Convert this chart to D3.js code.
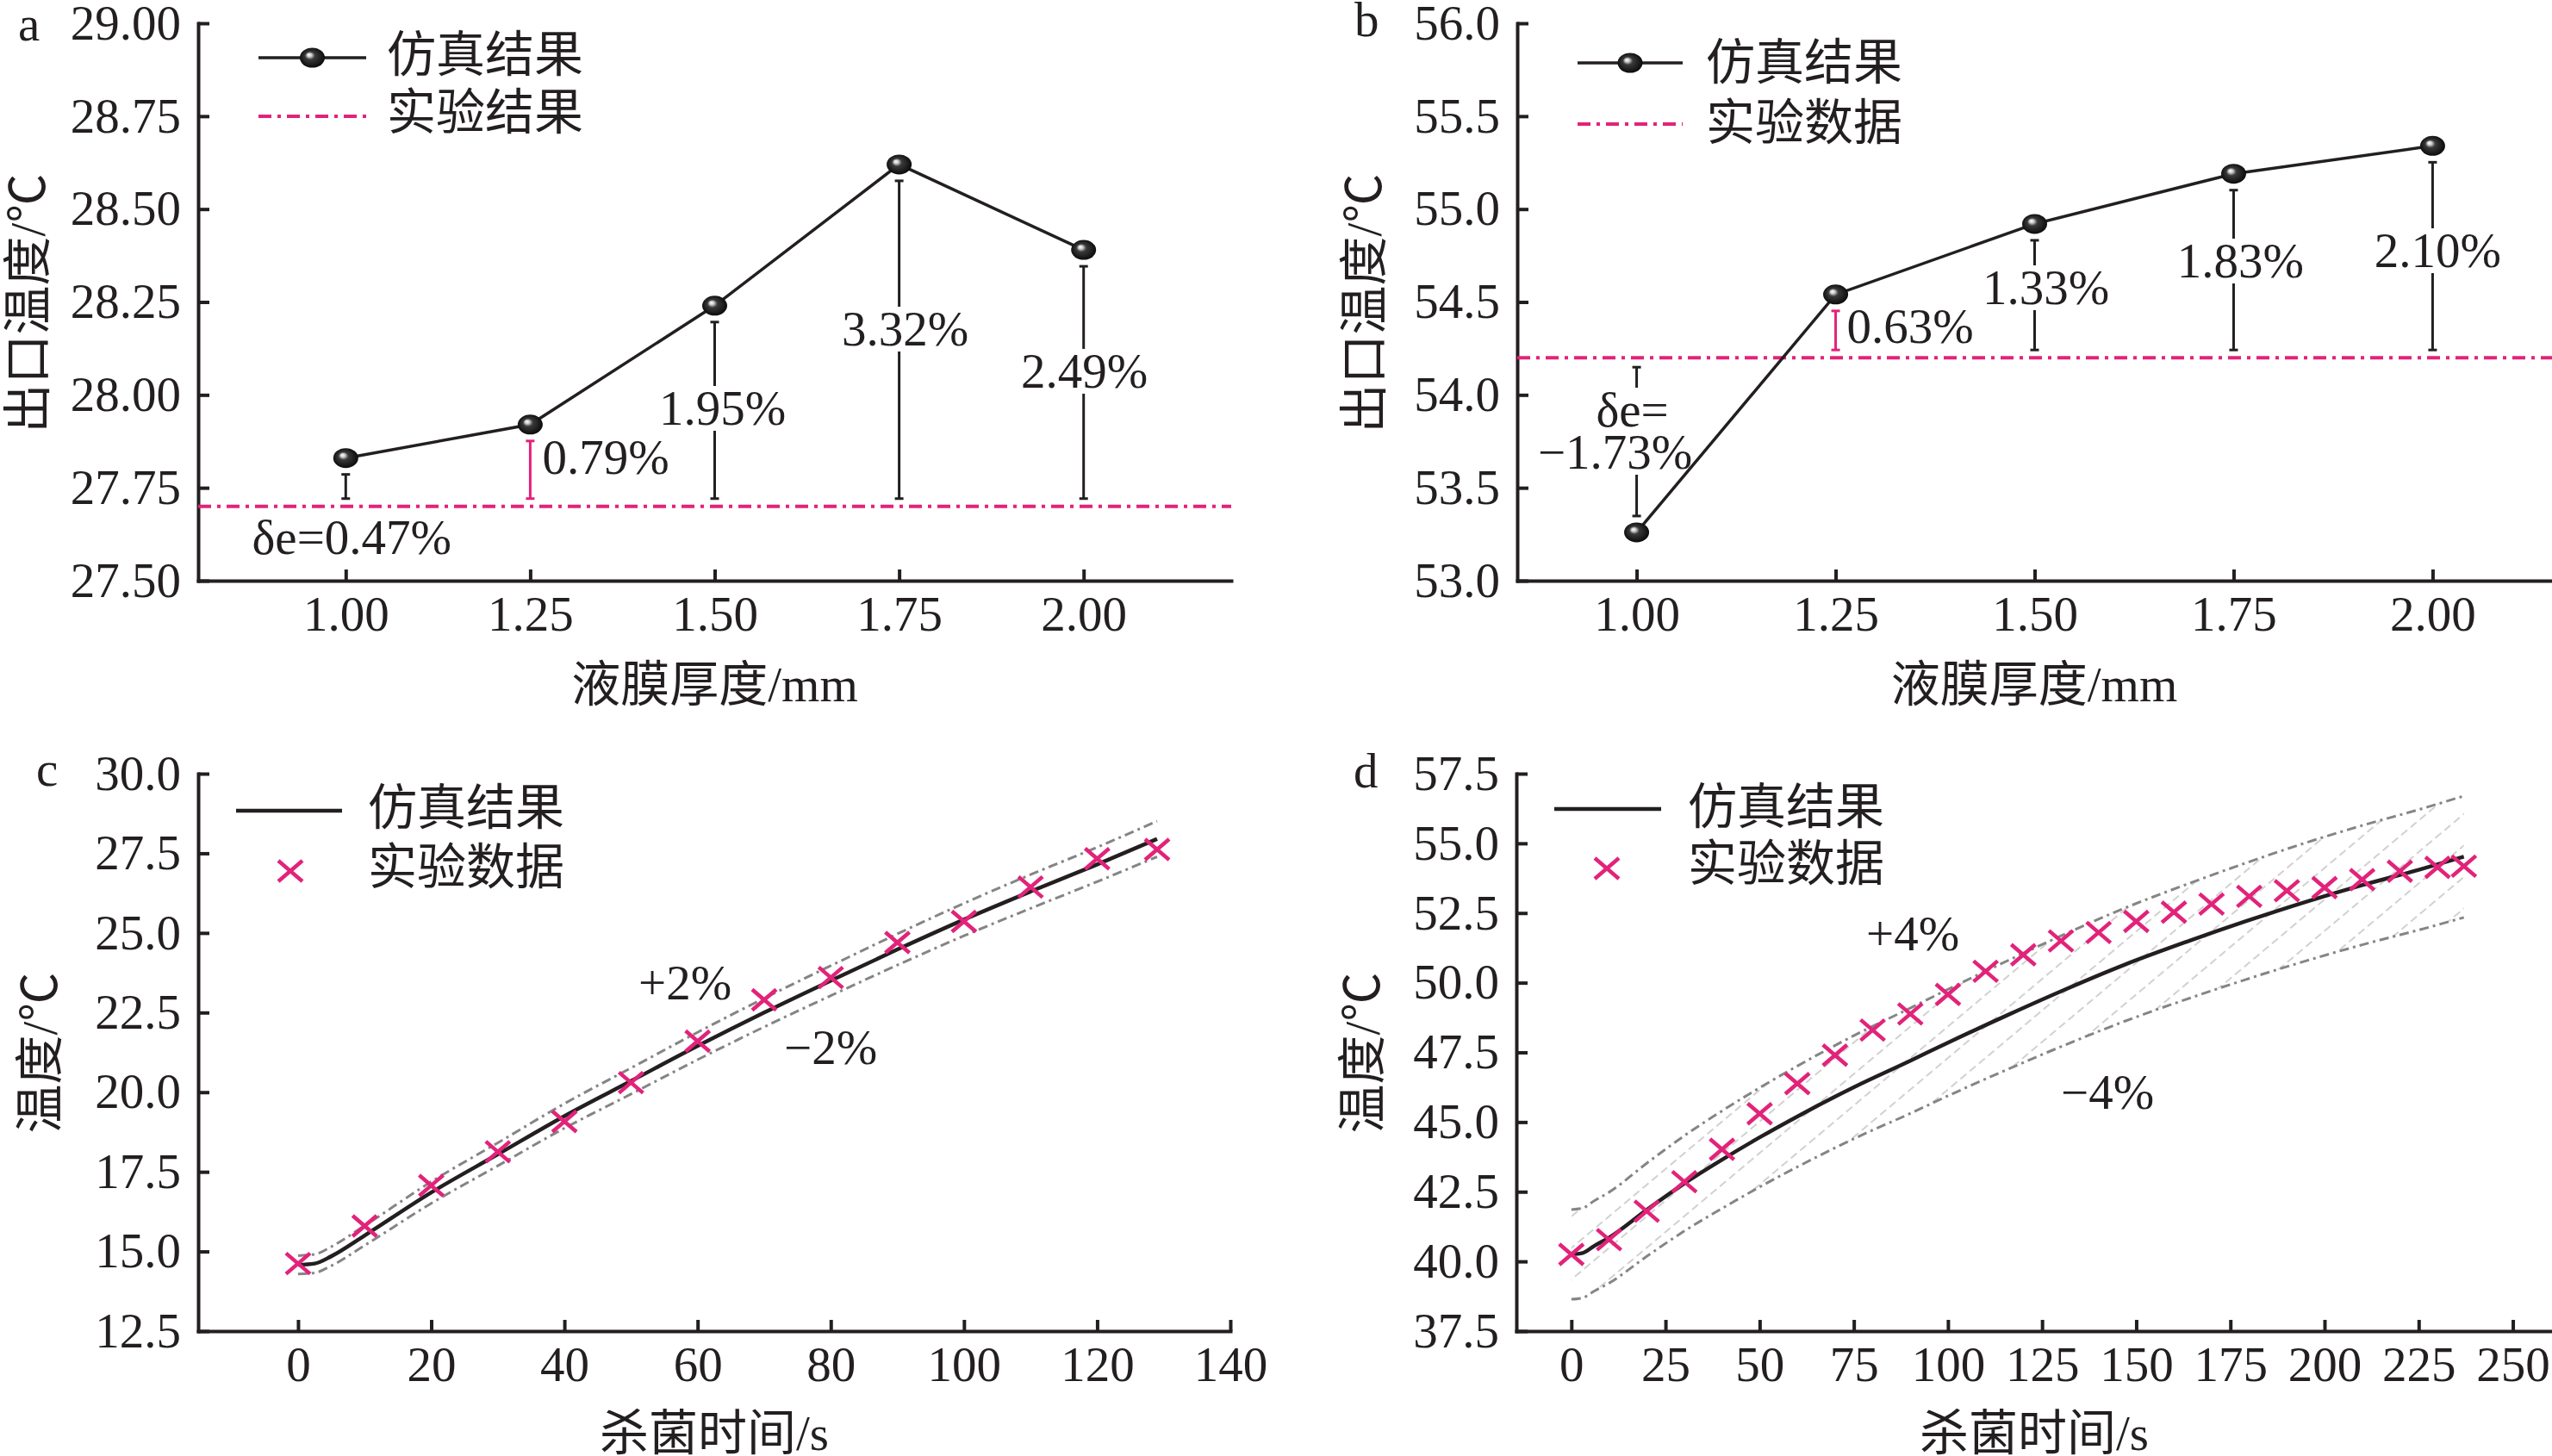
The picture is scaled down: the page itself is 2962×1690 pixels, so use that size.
<!DOCTYPE html>
<html>
<head>
<meta charset="utf-8">
<script src="https://cdnjs.cloudflare.com/ajax/libs/d3/7.8.5/d3.min.js"></script>
<style>
	body { margin: 0; background: #fff; }
	svg text { font-family: 'Liberation Serif', 'Noto Sans CJK SC', serif; fill: #231f20; font-size: 57px; }
	.axis path, .axis line { stroke: #231f20; stroke-width: 4; }
	.axis path { stroke-linecap: square; }
	.axis text { font-size: 57px; }
</style>
</head>
<body>
<svg id="chart" width="2962" height="1690"></svg>
<script>

// panel a / b : outlet temperature vs film thickness
var thickness = [ 1.00, 1.25, 1.50, 1.75, 2.00 ];
var simA = [ 27.83, 27.92, 28.24, 28.62, 28.39 ];
var expA = 27.70;
var errA = [ 'δe=0.47%', '0.79%', '1.95%', '3.32%', '2.49%' ];
var simB = [ 53.26, 54.54, 54.92, 55.19, 55.34 ];
var expB = 54.20;
var errB = [ '−1.73%', '0.63%', '1.33%', '1.83%', '2.10%' ];

var thickTicks = [ 1.00, 1.25, 1.50, 1.75, 2.00 ];
var aYTicks = [ 27.50, 27.75, 28.00, 28.25, 28.50, 28.75, 29.00 ];
var bYTicks = [ 53.0, 53.5, 54.0, 54.5, 55.0, 55.5, 56.0 ];

// panel c : temperature vs sterilization time
var cTime = [ 0, 2.5, 5, 10, 20, 30, 40, 50, 60, 70, 80, 90, 100, 110, 120, 129 ];
var cSim = [ 14.58, 14.62, 14.85, 15.50, 16.85, 18.05, 19.25, 20.35, 21.45, 22.50, 23.50, 24.48, 25.42, 26.30, 27.15, 27.95 ];
var cUpper = [ 14.87, 14.91, 15.15, 15.81, 17.19, 18.41, 19.64, 20.76, 21.88, 22.95, 23.97, 24.97, 25.93, 26.83, 27.69, 28.51 ];
var cLower = [ 14.29, 14.33, 14.55, 15.19, 16.51, 17.69, 18.87, 19.94, 21.02, 22.05, 23.03, 23.99, 24.91, 25.77, 26.61, 27.39 ];
var cExpTime = [ 0, 10, 20, 30, 40, 50, 60, 70, 80, 90, 100, 110, 120, 129 ];
var cExp = [ 14.62, 15.80, 17.07, 18.13, 19.08, 20.30, 21.60, 22.90, 23.60, 24.70, 25.36, 26.44, 27.33, 27.62 ];
var cXTicks = [ 0, 20, 40, 60, 80, 100, 120, 140 ];
var cYTicks = [ 12.5, 15.0, 17.5, 20.0, 22.5, 25.0, 27.5, 30.0 ];

// panel d
var dTime = [ 0, 3, 6, 10, 20, 30, 40, 50, 60, 75, 90, 100, 116, 131, 147, 163, 179, 195, 210, 225, 237 ];
var dSim = [ 40.25, 40.30, 40.55, 40.85, 41.85, 42.80, 43.65, 44.45, 45.20, 46.25, 47.20, 47.85, 48.85, 49.75, 50.65, 51.45, 52.20, 52.90, 53.50, 54.05, 54.52 ];
var dUpper = [ 41.86, 41.91, 42.17, 42.48, 43.52, 44.51, 45.40, 46.23, 47.01, 48.10, 49.09, 49.76, 50.80, 51.74, 52.68, 53.51, 54.29, 55.02, 55.64, 56.21, 56.70 ];
var dLower = [ 38.64, 38.69, 38.93, 39.22, 40.18, 41.09, 41.90, 42.67, 43.39, 44.40, 45.31, 45.94, 46.90, 47.76, 48.62, 49.39, 50.11, 50.78, 51.36, 51.89, 52.34 ];
var dExpTime = [ 0, 10, 20, 30, 40, 50, 60, 70, 80, 90, 100, 110, 120, 130, 140, 150, 160, 170, 180, 190, 200, 210, 220, 230, 237 ];
var dExp = [ 40.25, 40.78, 41.80, 42.86, 44.02, 45.30, 46.38, 47.40, 48.30, 48.88, 49.58, 50.41, 51.00, 51.50, 51.80, 52.20, 52.53, 52.82, 53.10, 53.30, 53.41, 53.70, 54.00, 54.14, 54.18 ];
var dXTicks = [ 0, 25, 50, 75, 100, 125, 150, 175, 200, 225, 250 ];
var dYTicks = [ 37.5, 40.0, 42.5, 45.0, 47.5, 50.0, 52.5, 55.0, 57.5 ];

var black = '#231f20', pink = '#e2237a', grey = '#858585';

var svg = d3.select( '#chart' );
var defs = svg.append( 'defs' );

var ball = defs.append( 'radialGradient' )
	.attr( 'id', 'ball' )
	.attr( 'cx', '50%' ).attr( 'cy', '50%' ).attr( 'r', '55%' )
	.attr( 'fx', '36%' ).attr( 'fy', '34%' );
ball.append( 'stop' ).attr( 'offset', 0 ).attr( 'stop-color', '#ffffff' );
ball.append( 'stop' ).attr( 'offset', 0.16 ).attr( 'stop-color', '#cfcfcf' );
ball.append( 'stop' ).attr( 'offset', 0.36 ).attr( 'stop-color', '#3a3a3a' );
ball.append( 'stop' ).attr( 'offset', 1 ).attr( 'stop-color', '#050505' );

var hatch = defs.append( 'pattern' )
	.attr( 'id', 'hatch' )
	.attr( 'patternUnits', 'userSpaceOnUse' )
	.attr( 'width', 28 ).attr( 'height', 28 )
	.attr( 'patternTransform', 'rotate(-40)' );
hatch.append( 'line' )
	.attr( 'x1', 0 ).attr( 'y1', 14 ).attr( 'x2', 28 ).attr( 'y2', 14 )
	.attr( 'stroke', '#c2c2c2' ).attr( 'stroke-width', 1.6 )
	.attr( 'stroke-dasharray', '9,5' );

var fmt2 = d3.format( '.2f' ), fmt1 = d3.format( '.1f' ), fmt0 = d3.format( 'd' );

function drawAxes( x, y, xTicks, yTicks, xFmt, yFmt ) {
	svg.append( 'g' )
		.attr( 'class', 'axis' )
		.attr( 'transform', 'translate(0,' + y.range()[0] + ')' )
		.call( d3.axisBottom( x ).tickValues( xTicks ).tickFormat( xFmt )
			.tickSizeInner( -13 ).tickSizeOuter( 0 ).tickPadding( 18 ) );
	svg.append( 'g' )
		.attr( 'class', 'axis' )
		.attr( 'transform', 'translate(' + x.range()[0] + ',0)' )
		.call( d3.axisLeft( y ).tickValues( yTicks ).tickFormat( yFmt )
			.tickSizeInner( -13 ).tickSizeOuter( 0 ).tickPadding( 20 ) );
}

function titles( letter, lx, ly, xTitle, xMid, xBase, yTitle, yMid, yCx ) {
	svg.append( 'text' ).attr( 'x', lx ).attr( 'y', ly ).text( letter );
	svg.append( 'text' ).attr( 'x', xMid ).attr( 'y', xBase )
		.attr( 'text-anchor', 'middle' ).text( xTitle );
	svg.append( 'text' )
		.attr( 'transform', 'translate(' + yCx + ',' + yMid + ') rotate(-90)' )
		.attr( 'y', 21 )
		.attr( 'text-anchor', 'middle' ).text( yTitle );
}

function legendText( x, cy, str ) {
	svg.append( 'text' ).attr( 'x', x ).attr( 'y', cy + 21 ).text( str );
}

function drawBall( g, cx, cy ) {
	g.append( 'ellipse' )
		.attr( 'cx', cx ).attr( 'cy', cy )
		.attr( 'rx', 14.5 ).attr( 'ry', 11.5 )
		.attr( 'fill', 'url(#ball)' );
}

function drawCross( g, cx, cy ) {
	g.append( 'path' )
		.attr( 'd', 'M' + ( cx - 14 ) + ',' + ( cy - 12 ) + 'L' + ( cx + 14 ) + ',' + ( cy + 12 ) +
			'M' + ( cx - 14 ) + ',' + ( cy + 12 ) + 'L' + ( cx + 14 ) + ',' + ( cy - 12 ) )
		.attr( 'stroke', pink ).attr( 'stroke-width', 4.5 ).attr( 'fill', 'none' );
}

// label text with a white box behind it, so error bars stop around it
function boxedText( boxes, texts, x, y, str, anchor, boxed ) {
	var t = texts.append( 'text' )
		.attr( 'x', x ).attr( 'y', y )
		.attr( 'text-anchor', anchor )
		.text( str );
	if ( boxed ) {
		var b = t.node().getBBox();
		boxes.append( 'rect' )
			.attr( 'x', b.x - 3 ).attr( 'width', b.width + 6 )
			.attr( 'y', y - 45 ).attr( 'height', 52 )
			.attr( 'fill', '#fff' );
	}
}

// ---------- a and b ----------
function thicknessPanel( opt ) {
	var x = d3.scaleLinear().domain( opt.xDomain ).range( opt.xRange );
	var y = d3.scaleLinear().domain( opt.yDomain ).range( [ 674, 27 ] );

	drawAxes( x, y, thickTicks, opt.yTicks, fmt2, opt.yFmt );

	var g = svg.append( 'g' );

	g.append( 'line' )
		.attr( 'x1', opt.xRange[0] ).attr( 'x2', opt.xRange[1] )
		.attr( 'y1', y( opt.exp ) ).attr( 'y2', y( opt.exp ) )
		.attr( 'stroke', pink ).attr( 'stroke-width', 4 )
		.attr( 'stroke-dasharray', '15,7,4,7' );

	// error bars
	opt.sim.forEach( function ( v, i ) {
		var cx = x( thickness[i] );
		var y0, y1;
		if ( v > opt.exp ) {
			y0 = y( opt.exp ) - 9;
			y1 = y( v ) + 19;
		} else {
			y0 = y( opt.exp ) + 11;
			y1 = y( v ) - 19;
		}
		var col = i === 1 ? pink : black;
		g.append( 'line' ).attr( 'x1', cx ).attr( 'x2', cx ).attr( 'y1', y0 ).attr( 'y2', y1 )
			.attr( 'stroke', col ).attr( 'stroke-width', 3 );
		[ y0, y1 ].forEach( function ( yy ) {
			g.append( 'line' ).attr( 'x1', cx - 5 ).attr( 'x2', cx + 5 ).attr( 'y1', yy ).attr( 'y2', yy )
				.attr( 'stroke', col ).attr( 'stroke-width', 3 );
		} );
	} );

	var boxes = g.append( 'g' ), texts = g.append( 'g' );
	opt.labels.forEach( function ( l ) {
		boxedText( boxes, texts, x( thickness[l.i] ) + l.dx, l.y, l.text, l.anchor, l.boxed );
	} );

	var line = d3.line()
		.x( function ( d, i ) { return x( thickness[i] ); } )
		.y( function ( d ) { return y( d ); } );

	g.append( 'path' )
		.datum( opt.sim )
		.attr( 'd', line )
		.attr( 'fill', 'none' ).attr( 'stroke', black ).attr( 'stroke-width', 3.5 );

	opt.sim.forEach( function ( v, i ) {
		drawBall( g, x( thickness[i] ), y( v ) );
	} );

	// legend
	var lg = opt.legend;
	g.append( 'line' ).attr( 'x1', lg.x0 ).attr( 'x2', lg.x1 ).attr( 'y1', lg.y0 ).attr( 'y2', lg.y0 )
		.attr( 'stroke', black ).attr( 'stroke-width', 3.5 );
	drawBall( g, ( lg.x0 + lg.x1 ) / 2, lg.y0 );
	g.append( 'line' ).attr( 'x1', lg.x0 ).attr( 'x2', lg.x1 ).attr( 'y1', lg.y1 ).attr( 'y2', lg.y1 )
		.attr( 'stroke', pink ).attr( 'stroke-width', 4 ).attr( 'stroke-dasharray', '15,7,4,7' );
	legendText( lg.tx, lg.t0, '仿真结果' );
	legendText( lg.tx, lg.t1, lg.expName );
}

thicknessPanel( {
	xDomain: [ 0.8, 2.2 ], xRange: [ 230, 1429 ],
	yDomain: [ 27.5, 29.0 ], yTicks: aYTicks, yFmt: fmt2,
	sim: simA, exp: expA,
	labels: [
		{ i: 0, dx: 7, y: 643, text: errA[0], anchor: 'middle', boxed: false },
		{ i: 1, dx: 14, y: 550, text: errA[1], anchor: 'start', boxed: false },
		{ i: 2, dx: 9, y: 493, text: errA[2], anchor: 'middle', boxed: true },
		{ i: 3, dx: 7, y: 401, text: errA[3], anchor: 'middle', boxed: true },
		{ i: 4, dx: 1, y: 450, text: errA[4], anchor: 'middle', boxed: true }
	],
	legend: { x0: 300, x1: 425, y0: 67, y1: 135, tx: 449, t0: 62, t1: 129, expName: '实验结果' }
} );

thicknessPanel( {
	xDomain: [ 0.85, 2.15 ], xRange: [ 1761, 2962 ],
	yDomain: [ 53.0, 56.0 ], yTicks: bYTicks, yFmt: fmt1,
	sim: simB, exp: expB,
	labels: [
		{ i: 0, dx: -5, y: 495, text: 'δe=', anchor: 'middle', boxed: true },
		{ i: 0, dx: -25, y: 544, text: errB[0], anchor: 'middle', boxed: true },
		{ i: 1, dx: 13, y: 398, text: errB[1], anchor: 'start', boxed: false },
		{ i: 2, dx: 13, y: 353, text: errB[2], anchor: 'middle', boxed: true },
		{ i: 3, dx: 8, y: 322, text: errB[3], anchor: 'middle', boxed: true },
		{ i: 4, dx: 6, y: 310, text: errB[4], anchor: 'middle', boxed: true }
	],
	legend: { x0: 1831, x1: 1953, y0: 73, y1: 144, tx: 1980, t0: 71, t1: 141, expName: '实验数据' }
} );

titles( 'a', 21, 47, '液膜厚度/mm', 829.5, 814, '出口温度/℃', 352, 31 );
titles( 'b', 1572, 42, '液膜厚度/mm', 2361, 814, '出口温度/℃', 352, 1582 );

// ---------- c and d ----------
function timePanel( opt ) {
	var x = d3.scaleLinear().domain( opt.xDomain ).range( opt.xRange );
	var y = d3.scaleLinear().domain( opt.yDomain ).range( [ 1545, 898 ] );

	drawAxes( x, y, opt.xTicks, opt.yTicks, fmt0, fmt1 );

	var g = svg.append( 'g' );

	if ( opt.hatch ) {
		var area = d3.area()
			.x( function ( d, i ) { return x( opt.time[i] ); } )
			.y0( function ( d, i ) { return y( opt.lower[i] ); } )
			.y1( function ( d ) { return y( d ); } )
			.curve( d3.curveMonotoneX );
		g.append( 'path' ).datum( opt.upper ).attr( 'd', area ).attr( 'fill', 'url(#hatch)' );
	}

	var line = d3.line()
		.x( function ( d, i ) { return x( opt.time[i] ); } )
		.y( function ( d ) { return y( d ); } )
		.curve( d3.curveMonotoneX );

	[ opt.upper, opt.lower ].forEach( function ( s ) {
		g.append( 'path' ).datum( s ).attr( 'd', line )
			.attr( 'fill', 'none' ).attr( 'stroke', grey ).attr( 'stroke-width', 3 )
			.attr( 'stroke-dasharray', '11,5,3,5' );
	} );

	g.append( 'path' ).datum( opt.sim ).attr( 'd', line )
		.attr( 'fill', 'none' ).attr( 'stroke', black ).attr( 'stroke-width', 4.5 );

	opt.exp.forEach( function ( v, i ) {
		drawCross( g, x( opt.expTime[i] ), y( v ) );
	} );

	opt.notes.forEach( function ( n ) {
		g.append( 'text' ).attr( 'x', n.x ).attr( 'y', n.y ).text( n.text );
	} );

	var lg = opt.legend;
	g.append( 'line' ).attr( 'x1', lg.x0 ).attr( 'x2', lg.x1 ).attr( 'y1', lg.y0 ).attr( 'y2', lg.y0 )
		.attr( 'stroke', black ).attr( 'stroke-width', 4.5 );
	drawCross( g, lg.mx, lg.my );
	legendText( lg.tx, lg.t0, '仿真结果' );
	legendText( lg.tx, lg.t1, '实验数据' );
}

timePanel( {
	xDomain: [ -15, 140 ], xRange: [ 230, 1428 ],
	yDomain: [ 12.5, 30.0 ], xTicks: cXTicks, yTicks: cYTicks,
	time: cTime, sim: cSim, upper: cUpper, lower: cLower,
	expTime: cExpTime, exp: cExp, hatch: false,
	notes: [ { x: 741, y: 1160, text: '+2%' }, { x: 910, y: 1235, text: '−2%' } ],
	legend: { x0: 274, x1: 397, y0: 941, mx: 337, my: 1011, tx: 427, t0: 936, t1: 1005 }
} );

timePanel( {
	xDomain: [ -14.6, 260.4 ], xRange: [ 1760, 2962 ],
	yDomain: [ 37.5, 57.5 ], xTicks: dXTicks, yTicks: dYTicks,
	time: dTime, sim: dSim, upper: dUpper, lower: dLower,
	expTime: dExpTime, exp: dExp, hatch: true,
	notes: [ { x: 2166, y: 1103, text: '+4%' }, { x: 2392, y: 1287, text: '−4%' } ],
	legend: { x0: 1804, x1: 1928, y0: 939, mx: 1865, my: 1008, tx: 1959, t0: 935, t1: 1001 }
} );

titles( 'c', 42, 912, '杀菌时间/s', 829, 1683, '温度/℃', 1222, 45 );
titles( 'd', 1571, 914, '杀菌时间/s', 2361, 1683, '温度/℃', 1222, 1580 );

</script>
</body>
</html>
